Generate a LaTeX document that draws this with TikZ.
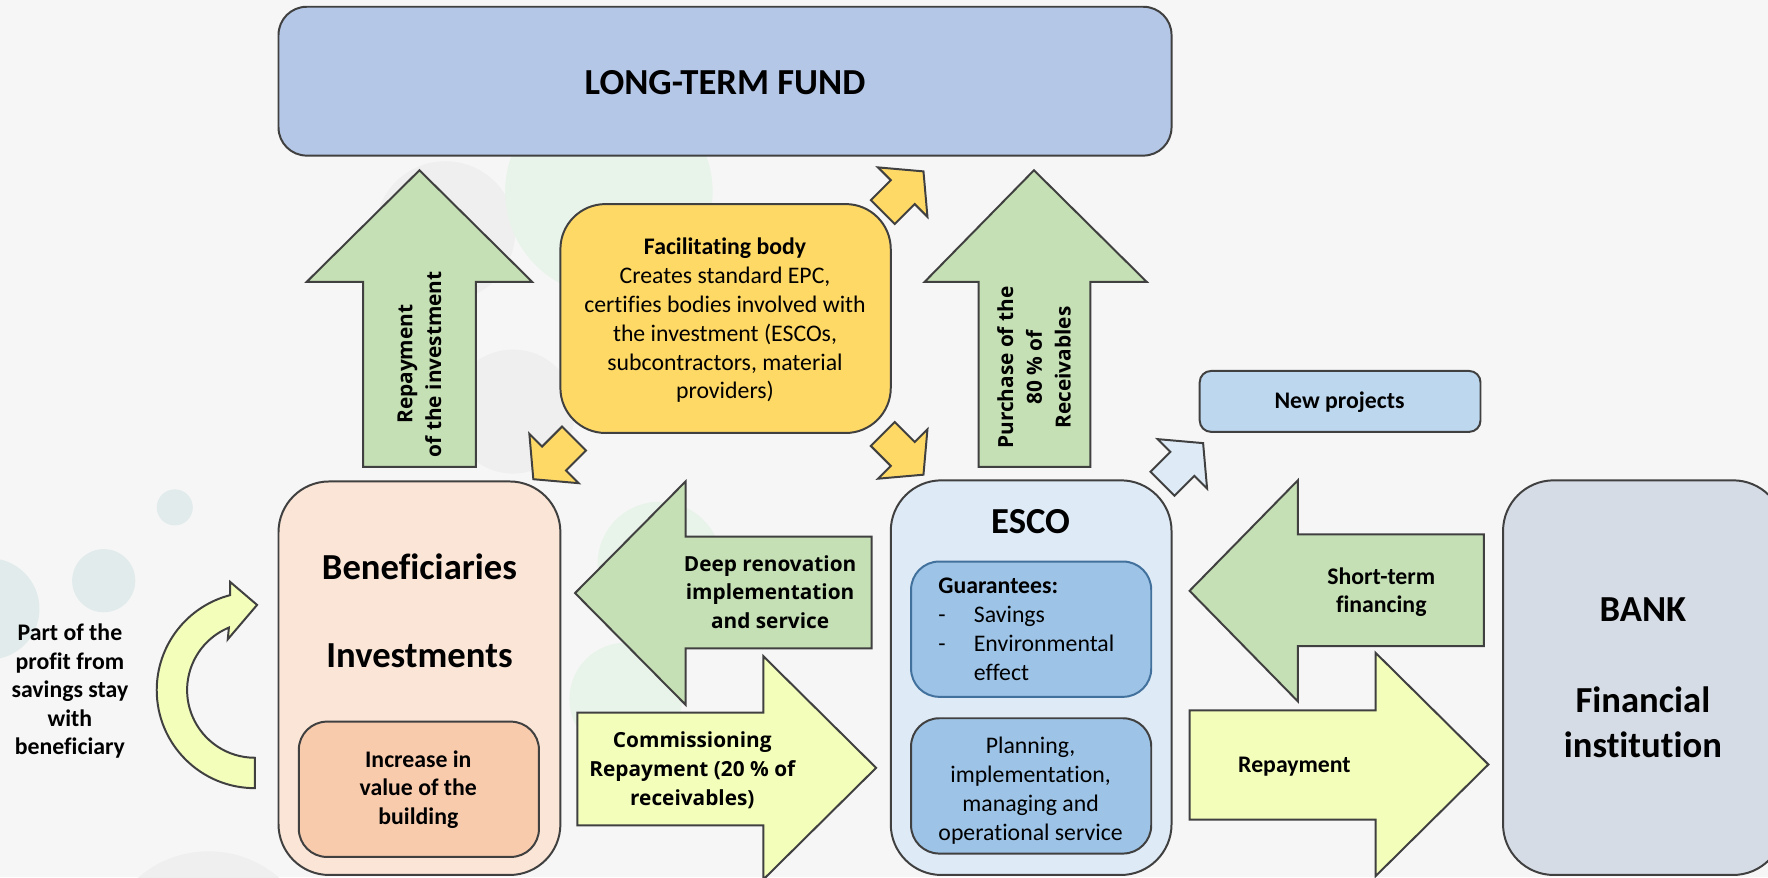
\documentclass[tikz,border=0pt]{standalone}
\usepackage{fontspec}
\setmainfont{Carlito}[Ligatures=NoCommon]
\newfontfamily\opensans{Open Sans}
\usepackage{xcolor}

\definecolor{bgc}{HTML}{F6F6F6}
\definecolor{edge}{HTML}{404040}
\definecolor{fundc}{HTML}{B4C7E7}
\definecolor{bodyc}{HTML}{FFD966}
\definecolor{greenc}{HTML}{C5E0B4}
\definecolor{paleylw}{HTML}{F4FEBB}
\definecolor{benc}{HTML}{FBE5D6}
\definecolor{valuec}{HTML}{F8CBAD}
\definecolor{escoc}{HTML}{DEEBF7}
\definecolor{guarc}{HTML}{9DC3E6}
\definecolor{guaredge}{HTML}{41719C}
\definecolor{newc}{HTML}{BDD7EE}
\definecolor{bankc}{HTML}{D6DCE5}
\definecolor{blobgray}{HTML}{EFEFEF}
\definecolor{blobgreen}{HTML}{E8F3EA}
\definecolor{blobteal}{HTML}{E1EBEB}

\tikzset{
	outline/.style={draw=edge, line width=1pt, line join=miter},
	big/.style={font=\bfseries\fontsize{18.5}{22.7}\selectfont, align=center},
	lbl/.style={font=\bfseries\fontsize{12}{14.4}\selectfont, align=center},
	txt/.style={font=\fontsize{12}{14.6}\selectfont, align=center},
	oslbl/.style={font=\opensans\bfseries\fontsize{10.5}{14.5}\selectfont, align=center},
}

\begin{document}
\begin{tikzpicture}[x=0.2mm, y=0.2mm]
	\useasboundingbox (0,0) rectangle (1568,-778);
	\clip (0,0) rectangle (1568,-778);
	\fill[bgc] (0,0) rectangle (1568,-778);
	\fill[blobgray] (395,-205) circle[radius=12.4mm];
	\fill[blobgray] (455,-365) circle[radius=11mm];
	\fill[blobgray] (185,-850) circle[radius=19mm];
	\fill[blobgreen] (540,-170) circle[radius=18.4mm];
	\fill[blobgreen] (585,-500) circle[radius=11mm];
	\fill[blobgreen] (555,-620) circle[radius=10mm];
	\fill[blobteal] (155,-450) circle[radius=3.2mm];
	\fill[blobteal] (92,-515) circle[radius=5.6mm];
	\fill[blobteal] (-10,-540) circle[radius=9mm];

	\draw[outline, fill=fundc, rounded corners=5mm] (247,-6) rectangle (1039,-138);
	\node[big] (fund) at (643,-73) {LONG-TERM FUND};

	\draw[outline, fill=greenc] (322,-414) -- (322,-250) -- (272,-250) -- (372,-151) -- (472,-250) -- (422,-250) -- (422,-414) -- cycle;
	\node[oslbl, rotate=90] (repinv) at (372,-323) {Repayment\\of the investment};

	\draw[outline, fill=greenc] (868,-414) -- (868,-250) -- (820,-250) -- (917,-151) -- (1017,-250) -- (967,-250) -- (967,-414) -- cycle;
	\node[oslbl, rotate=90] (purch) at (917,-326) {Purchase of the\\80~\% of\\Receivables};

	\draw[outline, fill=bodyc, rounded corners=8mm] (497,-181) rectangle (790,-384);
	\node[txt] (facil) at (643,-284) {\textbf{Facilitating body}\\Creates standard EPC,\\certifies bodies involved with\\the investment (ESCOs,\\subcontractors, material\\providers)};

	\draw[outline, fill=bodyc, shift={(819,-152)}, rotate=45] (0,0) -- (-26,31) -- (-26,15) -- (-51,15) -- (-51,-15) -- (-26,-15) -- (-26,-31) -- cycle;
	\draw[outline, fill=bodyc, shift={(819,-421)}, rotate=-45] (0,0) -- (-26,31) -- (-26,15) -- (-51,15) -- (-51,-15) -- (-26,-15) -- (-26,-31) -- cycle;
	\draw[outline, fill=bodyc, shift={(473,-425)}, rotate=225] (0,0) -- (-26,31) -- (-26,15) -- (-51,15) -- (-51,-15) -- (-26,-15) -- (-26,-31) -- cycle;
	\draw[outline, fill=escoc, shift={(1067,-393)}, rotate=45] (0,0) -- (-26,31) -- (-26,15) -- (-51,15) -- (-51,-15) -- (-26,-15) -- (-26,-31) -- cycle;

	\draw[outline, fill=paleylw] (226,-699) arc[start angle=270, end angle=104.6, radius=17.4mm] -- (204,-516) -- (228,-536.5) -- (202,-567) -- (203,-556.6) arc[start angle=112.5, end angle=270, radius=12mm] -- cycle;
	\node[lbl] (profit) at (62,-613) {Part of the\\profit from\\savings stay\\with\\beneficiary};

	\draw[outline, fill=benc, rounded corners=9mm] (247,-427) rectangle (497,-776);
	\node[big] (benef) at (372,-503) {Beneficiaries};
	\node[big] (invest) at (372,-582) {Investments};
	\draw[outline, fill=valuec, rounded corners=5mm] (265,-640) rectangle (478,-760);
	\node[lbl] (value) at (371,-700) {Increase in\\value of the\\building};

	\draw[outline, fill=greenc] (773,-476) -- (608,-476) -- (608,-427) -- (510,-526) -- (608,-625) -- (608,-575) -- (773,-575) -- cycle;
	\node[oslbl] (deep) at (683,-525) {Deep renovation\\implementation\\and service};

	\draw[outline, fill=paleylw] (512,-632) -- (677,-632) -- (677,-582) -- (777,-681) -- (677,-780) -- (677,-732) -- (512,-732) -- cycle;
	\node[oslbl] (commis) at (614,-683) {Commissioning\\Repayment (20~\% of\\receivables)};

	\draw[outline, fill=escoc, rounded corners=9mm] (790,-426) rectangle (1039,-776);
	\node[big] (esco) at (914,-463) {ESCO};
	\draw[outline, draw=guaredge, fill=guarc, rounded corners=5mm] (808,-498) rectangle (1021,-618);
	\node[txt, align=left, anchor=west] (guar) at (826,-558) {\textbf{Guarantees:}\\\makebox[6.3mm][l]{-}Savings\\\makebox[6.3mm][l]{-}Environmental\\\hspace*{6.3mm}effect};
	\draw[outline, fill=guarc, rounded corners=5mm] (808,-637) rectangle (1021,-757);
	\node[txt] (plan) at (914,-701) {Planning,\\implementation,\\managing and\\operational service};

	\draw[outline, fill=newc, rounded corners=2mm] (1064,-329) rectangle (1313,-383);
	\node[lbl] (newproj) at (1188,-357) {New projects};

	\draw[outline, fill=greenc] (1316,-474) -- (1151,-474) -- (1151,-426) -- (1055,-524) -- (1151,-622) -- (1151,-573) -- (1316,-573) -- cycle;
	\node[lbl] (short) at (1225,-525) {Short-term\\financing};

	\draw[outline, fill=paleylw] (1055,-630) -- (1220,-630) -- (1220,-579) -- (1320,-678) -- (1220,-777) -- (1220,-727) -- (1055,-727) -- cycle;
	\node[lbl] (repay) at (1148,-680) {Repayment};

	\draw[outline, fill=bankc, rounded corners=9mm] (1333,-426) rectangle (1582,-776);
	\node[big] (bank) at (1457,-541) {BANK};
	\node[big] (fin) at (1457,-641) {Financial\\institution};
\end{tikzpicture}
\end{document}
